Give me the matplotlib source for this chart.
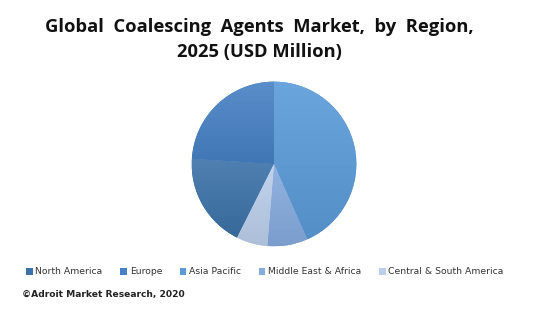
import matplotlib
matplotlib.use("Agg")
import matplotlib.pyplot as plt
import matplotlib.colors as mcolors
import numpy as np

regions = ["North America", "Europe", "Asia Pacific", "Middle East & Africa", "Central & South America"]
shares = [18.6, 24.0, 43.4, 7.9, 6.1]
colors = ["#3B72A8", "#4681C4", "#5B9BD9", "#86ABDF", "#BBCFEB"]

title_l1 = "Global  Coalescing  Agents  Market,  by  Region,"
title_l2 = "2025 (USD Million)"
source = "©Adroit Market Research, 2020"

fig = plt.figure(figsize=(5.52, 3.10), dpi=100)
fig.patch.set_facecolor("white")

tx = 259 / 552
fig.text(tx, 1 - 27.5 / 310, title_l1, ha="center", va="center", fontsize=13.2,
         fontweight="bold", family="Open Sans", color="#111111")
fig.text(tx, 1 - 51.5 / 310, title_l2, ha="center", va="center", fontsize=13.2,
         fontweight="bold", family="Open Sans", color="#111111")

# Pie area: centre around (274, 164) px, radius ~82 px
ax = fig.add_axes([(274 - 84) / 552, 1 - (164 + 84) / 310, 168 / 552, 168 / 310])
# Asia Pacific starts at 12 o'clock; slices run clockwise
start = 90 + 360 * (shares[0] + shares[1]) / sum(shares)
wedges, _ = ax.pie(shares, colors=colors, startangle=start, counterclock=False,
                   wedgeprops=dict(linewidth=0))
ax.set_aspect("equal")


def shade(c, f):
    rgb = np.array(mcolors.to_rgb(c))
    if f >= 0:
        return rgb + (1 - rgb) * f
    return rgb * (1 + f)


# Soft vertical gradient inside each slice, lighter at the top
for w, c in zip(wedges, colors):
    bb = w.get_path().get_extents(w.get_patch_transform())
    t = np.linspace(0, 1, 64)[:, None]
    top, bot = shade(c, 0.10), shade(c, -0.08)
    img = bot[None, None, :] * (1 - t[..., None]) + top[None, None, :] * t[..., None]
    img = np.repeat(img, 2, axis=1)
    im = ax.imshow(img, extent=[bb.x0, bb.x1, bb.y0, bb.y1], origin="lower",
                   aspect="auto", zorder=w.get_zorder() + 0.1, interpolation="bilinear")
    im.set_clip_path(w)
ax.set_xlim(-1.02, 1.02)
ax.set_ylim(-1.02, 1.02)
ax.axis("off")

leg = fig.legend(wedges, regions, loc="center", bbox_to_anchor=(0.48, 1 - 272 / 310),
                 ncol=5, frameon=False, handlelength=0.7, handleheight=0.7,
                 handletextpad=0.3, columnspacing=1.9, prop={"family": "DejaVu Sans", "size": 6.7})
for t in leg.get_texts():
    t.set_color("#333333")

fig.text(22 / 552, 1 - 294 / 310, source, ha="left", va="center", fontsize=6.6,
         family="DejaVu Sans", fontweight="bold", color="#222222")

fig.savefig("out.png", dpi=100, facecolor="white")
